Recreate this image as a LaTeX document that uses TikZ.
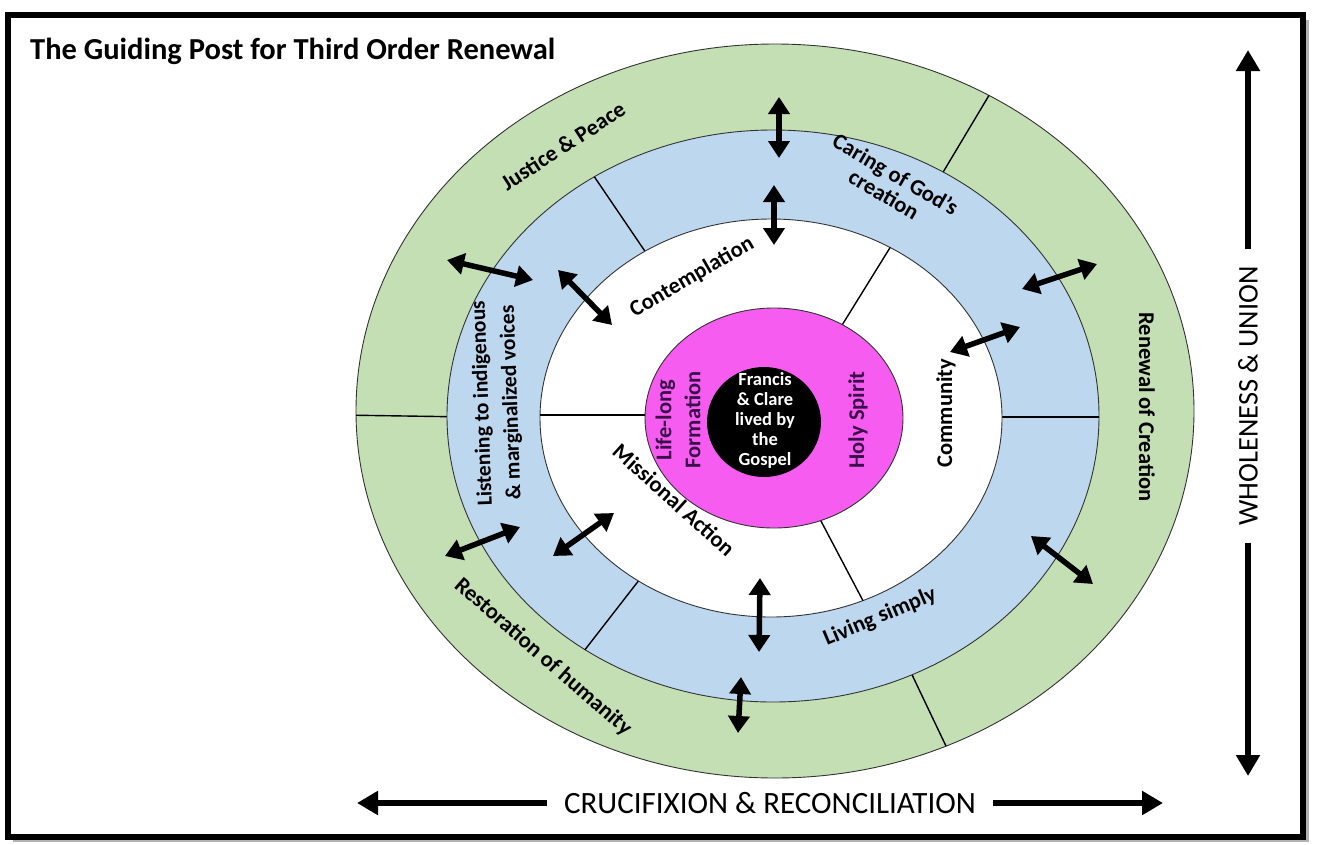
\documentclass[tikz,border=0pt]{standalone}
\usepackage{fontspec}
\setmainfont{Carlito}
\usetikzlibrary{arrows.meta}
\definecolor{ringgreen}{HTML}{C4DFB3}
\definecolor{ringblue}{HTML}{BDD7EE}
\definecolor{ringpink}{HTML}{F65CF0}
\definecolor{pinktext}{HTML}{3B0F4A}
\begin{document}
\begin{tikzpicture}[x=1pt,y=-1pt,
  ring/.style={draw=black!80, line width=0.9pt},
  divider/.style={draw=black, line width=1.4pt},
  dbl/.style={line width=5.5pt, {Triangle[width=21pt,length=17pt]}-{Triangle[width=21pt,length=17pt]}},
  lbl/.style={font=\bfseries\fontsize{22.5}{23}\selectfont, align=center, inner sep=0pt},
  pinklbl/.style={lbl, text=pinktext},
  centertext/.style={font=\bfseries\fontsize{18.5}{20}\selectfont, align=center, text=white, inner sep=0pt},
  bigarrow/.style={line width=6.5pt, -{Triangle[width=23pt,length=21pt]}},
  axislbl/.style={font=\fontsize{31}{33}\selectfont, inner sep=0pt}]
\useasboundingbox (0,0) rectangle (1317,844);
\fill[white] (0,0) rectangle (1317,844);
\fill[black!30] (13,20) rectangle (1309,842);
\draw[line width=6pt, fill=white] (8,15) rectangle (1303,837);

% title
\node[anchor=base west, font=\bfseries\fontsize{30.5}{33}\selectfont, inner sep=0pt] (title) at (30,59) {The Guiding Post for Third Order Renewal};

% green ring
\path[ring, fill=ringgreen] (775,411) ellipse [x radius=419pt, y radius=367pt];
\begin{scope}
\clip (775,411) ellipse [x radius=419pt, y radius=367pt];
\draw[divider] (340,415) -- (470,417);
\draw[divider] (1000,77) -- (930,194);
\draw[divider] (905,660) -- (955,765);
\end{scope}
% blue ring
\path[ring, fill=ringblue] (773,416) ellipse [x radius=326pt, y radius=286pt];
\begin{scope}
\clip (773,416) ellipse [x radius=326pt, y radius=286pt];
\draw[divider] (585,163) -- (655,266);
\draw[divider] (990,417) -- (1110,417);
\draw[divider] (650,566) -- (570,669);
\end{scope}
% white ring
\path[ring, fill=white] (771,418) ellipse [x radius=231pt, y radius=199pt];
\begin{scope}
\clip (771,418) ellipse [x radius=231pt, y radius=199pt];
\draw[divider] (525,415) -- (660,415);
\draw[divider] (896,238) -- (826,351);
\draw[divider] (812,504) -- (880,633);
\end{scope}
% pink and black
\path[ring, fill=ringpink] (774,418) ellipse [x radius=129pt, y radius=110pt];
\path[fill=black] (764,422) ellipse [x radius=57pt, y radius=55pt];

% labels
\node[lbl, rotate=33] (justice) at (563,146) {Justice \& Peace};
\node[lbl, rotate=-30] (caring) at (890,184) {Caring of God’s\\creation};
\node[lbl, rotate=92, font=\bfseries\fontsize{21.5}{29}\selectfont] (listening) at (497,403) {Listening to indigenous\\\& marginalized voices};
\node[lbl, rotate=30] (contemplation) at (692,277) {Contemplation};
\node[lbl, rotate=-42] (missional) at (674,500) {Missional Action};
\node[lbl, rotate=90] (community) at (946,413) {Community};
\node[lbl, rotate=-90] (renewal) at (1147,407) {Renewal of Creation};
\node[lbl, rotate=23] (living) at (880,617) {Living simply};
\node[lbl, rotate=-41] (restoration) at (543,657) {Restoration of humanity};
\node[pinklbl, rotate=90, font=\bfseries\fontsize{22.5}{29}\selectfont] (lifelong) at (678,420) {Life-long\\Formation};
\node[pinklbl, rotate=90] (holy) at (858,420) {Holy Spirit};
\node[centertext] (francis) at (765,420) {Francis\\\& Clare\\lived by\\the\\Gospel};

% double arrows
\coordinate (a1s) at (779,97);  \coordinate (a1e) at (779,158);
\coordinate (a2s) at (774,185); \coordinate (a2e) at (774,245);
\coordinate (a3s) at (447,260); \coordinate (a3e) at (533,280);
\coordinate (a4s) at (558,270); \coordinate (a4e) at (612,325);
\coordinate (a5s) at (1022,289); \coordinate (a5e) at (1097,264);
\coordinate (a6s) at (950,352); \coordinate (a6e) at (1020,327);
\coordinate (a7s) at (445,556); \coordinate (a7e) at (520,527);
\coordinate (a8s) at (553,556); \coordinate (a8e) at (614,513);
\coordinate (a9s) at (760,578); \coordinate (a9e) at (759,652);
\coordinate (a10s) at (741,677); \coordinate (a10e) at (738,733);
\coordinate (a11s) at (1031,536); \coordinate (a11e) at (1093,584);
\foreach \i in {1,...,11} { \draw[dbl] (a\i s) -- (a\i e); }

% axes
\node[axislbl, rotate=90, font=\fontsize{28.5}{32}\selectfont] (whole) at (1248,396) {WHOLENESS \& UNION};
\coordinate (upTip) at (1248,50);
\coordinate (downTip) at (1248,776);
\draw[bigarrow] (whole.east) ++(0,-17) -- (upTip);
\draw[bigarrow] (whole.west) ++(0,17) -- (downTip);
\node[axislbl] (cross) at (770,803) {CRUCIFIXION \& RECONCILIATION};
\coordinate (leftTip) at (357,803);
\coordinate (rightTip) at (1163,803);
\draw[bigarrow] (cross.west) ++(-17,0) -- (leftTip);
\draw[bigarrow] (cross.east) ++(17,0) -- (rightTip);
\end{tikzpicture}
\end{document}
